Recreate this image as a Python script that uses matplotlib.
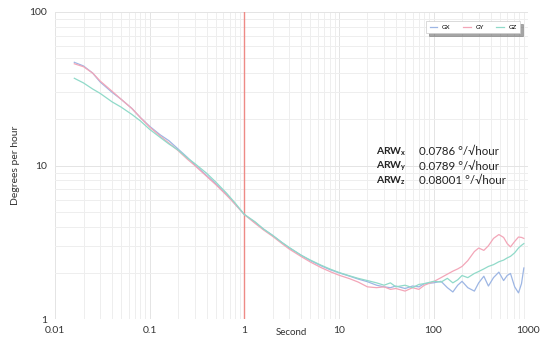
import matplotlib
matplotlib.use("Agg")
import matplotlib.pyplot as plt

plt.rcParams['font.family'] = ['Lato', 'DejaVu Sans']
plt.rcParams['mathtext.fontset'] = 'custom'
plt.rcParams['mathtext.rm'] = 'Lato'
plt.rcParams['mathtext.bf'] = 'Lato:bold'

# Allan deviation data (averaging time in seconds, degrees per hour)
tau = [0.016, 0.02, 0.025, 0.03, 0.04, 0.05, 0.065, 0.08, 0.1, 0.13,
       0.16, 0.2, 0.25, 0.3, 0.4, 0.5, 0.65, 0.8, 1.0, 1.3,
       1.6, 2, 2.5, 3, 4, 5, 6.5, 8, 10, 13,
       16, 20, 25, 30, 35, 40, 50, 60, 70, 80,
       100, 120, 140, 160, 180, 200, 230, 270, 300, 340,
       380, 430, 490, 550, 600, 650, 720, 790, 850, 900]

gx = [47, 44.5, 40, 35, 30, 27, 23.5, 20.5, 18, 15.8,
      14.5, 12.8, 11.3, 10.1, 8.6, 7.6, 6.5, 5.6, 4.8, 4.25,
      3.85, 3.5, 3.15, 2.9, 2.6, 2.4, 2.22, 2.1, 2.0, 1.9,
      1.82, 1.75, 1.66, 1.62, 1.6, 1.64, 1.58, 1.64, 1.62, 1.7,
      1.72, 1.76, 1.6, 1.5, 1.66, 1.76, 1.6, 1.52, 1.72, 1.9,
      1.64, 1.86, 2.02, 1.78, 1.92, 1.98, 1.62, 1.48, 1.7, 2.15]

gy = [46, 44, 40, 35.5, 30.5, 27, 23.5, 20.5, 17.8, 15.5,
      14.0, 12.5, 11.0, 10.0, 8.5, 7.5, 6.4, 5.6, 4.8, 4.2,
      3.8, 3.45, 3.1, 2.85, 2.55, 2.35, 2.16, 2.04, 1.93, 1.83,
      1.74, 1.62, 1.6, 1.62, 1.56, 1.58, 1.52, 1.6, 1.56, 1.66,
      1.75, 1.86, 1.96, 2.05, 2.12, 2.2, 2.4, 2.75, 2.9, 2.8,
      3.0, 3.35, 3.55, 3.4, 3.1, 2.95, 3.2, 3.42, 3.4, 3.35]

gz = [37, 34.5, 31.5, 29.5, 26, 24, 21.5, 19.5, 17.2, 15.2,
      13.8, 12.6, 11.2, 10.3, 8.9, 7.8, 6.6, 5.7, 4.8, 4.3,
      3.85, 3.5, 3.15, 2.92, 2.6, 2.42, 2.24, 2.12, 2.01, 1.91,
      1.84, 1.78, 1.72, 1.66, 1.72, 1.62, 1.66, 1.6, 1.68, 1.7,
      1.76, 1.74, 1.84, 1.72, 1.8, 1.92, 1.86, 1.98, 2.04, 2.12,
      2.2, 2.26, 2.36, 2.42, 2.5, 2.56, 2.7, 2.9, 3.02, 3.1]

arw_axes = ['x', 'y', 'z']
arw_values = ['0.0786', '0.0789', '0.08001']

fig = plt.figure(figsize=(5.42, 3.37), dpi=100)
ax = fig.add_axes([0.1015, 0.0534, 0.873, 0.911])
ax.set_axisbelow(True)

ax.plot(tau, gx, color='#9db6e4', lw=0.9, label='GX', zorder=3)
ax.plot(tau, gy, color='#f3a6b8', lw=0.9, label='GY', zorder=3)
ax.plot(tau, gz, color='#90dac9', lw=0.9, label='GZ', zorder=3)

ax.axvline(1, color='#ee8a86', lw=1.0, zorder=2)

ax.set_xscale('log')
ax.set_yscale('log')
ax.set_xlim(0.01, 1000)
ax.set_ylim(1, 100)

ax.set_xticks([0.01, 0.1, 1, 10, 100, 1000])
ax.set_xticklabels(['0.01', '0.1', '1', '10', '100', '1000'])
ax.set_yticks([1, 10, 100])
ax.set_yticklabels(['1', '10', '100'])

ax.grid(True, which='major', color='#e4e4e4', lw=0.7)
ax.grid(True, which='minor', color='#eeeeee', lw=0.7)
ax.tick_params(which='both', length=0, labelsize=7.5, colors='#333333')
ax.tick_params(axis='x', pad=5)
ax.tick_params(axis='y', pad=6)
for s in ax.spines.values():
    s.set_visible(False)

ax.set_xlabel('Second', fontsize=7, color='#333333')
ax.xaxis.set_label_coords(0.5, -0.028)
ax.set_ylabel('Degrees per hour', fontsize=7.5, color='#333333')
ax.yaxis.set_label_coords(-0.075, 0.5)

leg = ax.legend(loc='upper right', bbox_to_anchor=(0.99, 0.98), ncol=3,
                fontsize=4.5, frameon=True, fancybox=False, shadow=True,
                handlelength=1.2, columnspacing=2.0, borderpad=0.5)
leg.get_frame().set_edgecolor('#cccccc')
leg.get_frame().set_linewidth(0.5)

ys = [0.545, 0.498, 0.450]
for a, v, y in zip(arw_axes, arw_values, ys):
    ax.text(0.678, y, r'$\mathbf{ARW}_{\mathbf{' + a + '}}$', transform=ax.transAxes,
            fontsize=7.5, va='center', ha='left', color='#222222')
    ax.text(0.770, y, v + ' °/√hour', transform=ax.transAxes,
            fontsize=8.3, va='center', ha='left', color='#222222')

fig.savefig('out.png', dpi=100)
